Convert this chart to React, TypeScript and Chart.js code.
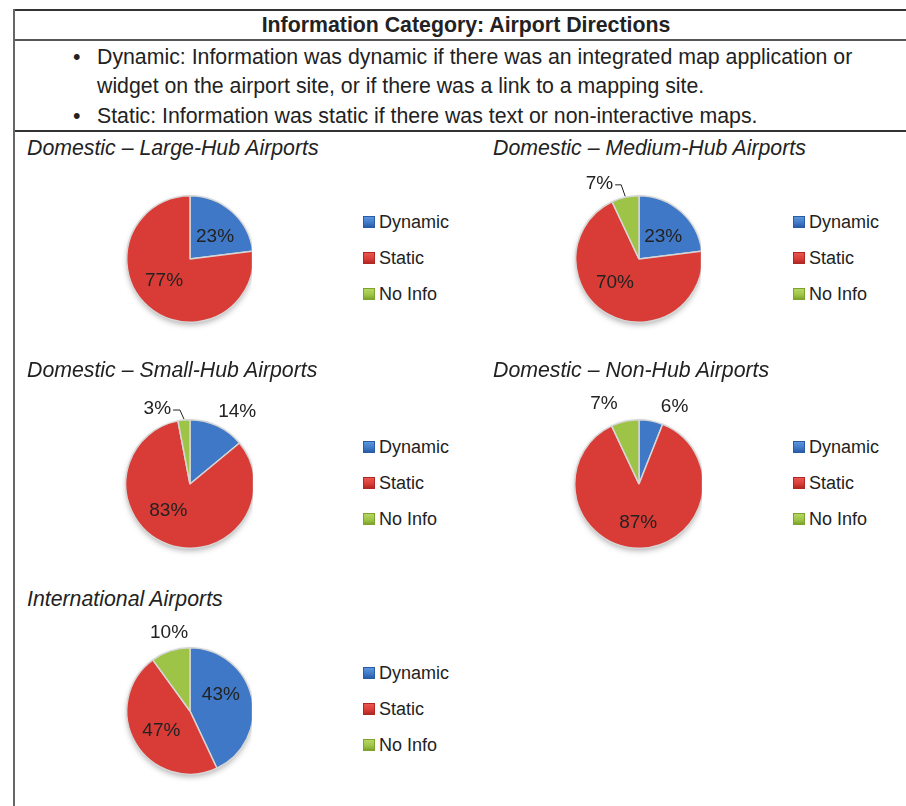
import React, { useEffect, useRef } from "react";
import { Chart, registerables } from "chart.js";

Chart.register(...registerables);

// ---------- data ----------
const categories = ["Dynamic", "Static", "No Info"];
const largeHubValues = [23, 77, 0];
const mediumHubValues = [23, 70, 7];
const smallHubValues = [14, 83, 3];
const nonHubValues = [6, 87, 7];
const internationalValues = [43, 47, 10];

const chartTitles = [
  "Domestic \u2013 Large-Hub Airports",
  "Domestic \u2013 Medium-Hub Airports",
  "Domestic \u2013 Small-Hub Airports",
  "Domestic \u2013 Non-Hub Airports",
  "International Airports",
];

const headerText = "Information Category: Airport Directions";
const bulletLines = [
  "Dynamic: Information was dynamic if there was an integrated map application or",
  "widget on the airport site, or if there was a link to a mapping site.",
  "Static: Information was static if there was text or non-interactive maps.",
];

// ---------- styles ----------
const FONT = "'Liberation Sans', Arial, Helvetica, sans-serif";
const sliceColors = [
  { light: "#5b95dc", base: "#3f78c6", dark: "#2a5ca6" },
  { light: "#ea5650", base: "#d93c36", dark: "#b02824" },
  { light: "#b6d763", base: "#9dc446", dark: "#7ea32c" },
];

type LabelCfg = { f: number; da: number; leader?: boolean } | null;

const pieLayouts = [
  {
    values: largeHubValues, cx: 190, cy: 259, r: 64, titleX: 27, titleY: 148, legendX: 363, legendY: 222,
    labels: [{ f: 0.53, da: 7 }, { f: 0.54, da: 8 }, null] as LabelCfg[],
  },
  {
    values: mediumHubValues, cx: 639, cy: 259, r: 64, titleX: 493, titleY: 148, legendX: 793, legendY: 222,
    labels: [{ f: 0.52, da: 6 }, { f: 0.53, da: 17 }, { f: 1.35, da: -15, leader: true }] as LabelCfg[],
  },
  {
    values: smallHubValues, cx: 190, cy: 484, r: 65, titleX: 27, titleY: 370, legendX: 363, legendY: 447,
    labels: [{ f: 1.34, da: 8 }, { f: 0.54, da: 19 }, { f: 1.28, da: -18, leader: true }] as LabelCfg[],
  },
  {
    values: nonHubValues, cx: 639, cy: 484, r: 65, titleX: 493, titleY: 370, legendX: 793, legendY: 447,
    labels: [{ f: 1.32, da: 14 }, { f: 0.6, da: 3 }, { f: 1.36, da: -11 }] as LabelCfg[],
  },
  {
    values: internationalValues, cx: 190, cy: 711, r: 64, titleX: 27, titleY: 599, legendX: 363, legendY: 673,
    labels: [{ f: 0.55, da: -15 }, { f: 0.55, da: -4 }, { f: 1.28, da: 3 }] as LabelCfg[],
  },
];

const CANVAS_W = 240;
const CANVAS_H = 200;
const BODY_SIZE = 21.3;

function PieChart({ layout }: { layout: (typeof pieLayouts)[number] }) {
  const ref = useRef<HTMLCanvasElement | null>(null);
  useEffect(() => {
    if (!ref.current) return;
    const { values, r, labels } = layout;
    const half = CANVAS_W / 2;
    const vHalf = CANVAS_H / 2;

    const shadowClip = {
      id: "shadowClip",
      beforeDatasetsDraw(chart: any) {
        const meta = chart.getDatasetMeta(0);
        const a = meta.data[0];
        if (!a) return;
        const ctx = chart.ctx;
        ctx.save();
        ctx.beginPath();
        ctx.rect(0, 0, a.x + a.outerRadius - 1.5, chart.height);
        ctx.clip();
        ctx.save();
        ctx.shadowColor = "rgba(0,0,0,0.35)";
        ctx.shadowBlur = 6;
        ctx.shadowOffsetY = 3;
        ctx.beginPath();
        ctx.arc(a.x, a.y, a.outerRadius - 1, 0, Math.PI * 2);
        ctx.fillStyle = "#bbbbbb";
        ctx.fill();
        ctx.restore();
      },
      afterDatasetsDraw(chart: any) {
        const ctx = chart.ctx;
        ctx.restore();
        const meta = chart.getDatasetMeta(0);
        ctx.save();
        ctx.font = `19px ${FONT}`;
        ctx.fillStyle = "#222222";
        ctx.textAlign = "center";
        ctx.textBaseline = "middle";
        meta.data.forEach((arc: any, i: number) => {
          const cfg = labels[i];
          const v = values[i];
          if (!cfg || !v) return;
          const mid = (arc.startAngle + arc.endAngle) / 2;
          const ang = mid + (cfg.da * Math.PI) / 180;
          const R = arc.outerRadius;
          const lx = arc.x + Math.cos(ang) * R * cfg.f;
          const ly = arc.y + Math.sin(ang) * R * cfg.f;
          const txt = `${v}%`;
          ctx.fillText(txt, lx, ly);
          if (cfg.leader) {
            const w = ctx.measureText(txt).width;
            const ex = arc.x + Math.cos(mid) * R;
            const ey = arc.y + Math.sin(mid) * R;
            ctx.beginPath();
            ctx.strokeStyle = "#222222";
            ctx.lineWidth = 1;
            ctx.moveTo(lx + w / 2 + 2, ly + 1.5);
            ctx.lineTo(ex - 4, ly + 1.5);
            ctx.lineTo(ex, ey - 1);
            ctx.stroke();
          }
        });
        ctx.restore();
      },
    };

    const chart = new Chart(ref.current, {
      type: "pie",
      data: {
        labels: categories,
        datasets: [
          {
            data: values,
            backgroundColor: (ctx: any) => {
              const c = sliceColors[ctx.dataIndex % 3];
              const el = ctx.element;
              if (!el || !isFinite(el.x) || !el.outerRadius) return c.base;
              const g = ctx.chart.ctx.createRadialGradient(el.x, el.y, 0, el.x, el.y, el.outerRadius);
              g.addColorStop(0, c.light);
              g.addColorStop(0.75, c.base);
              g.addColorStop(1, c.dark);
              return g;
            },
            borderColor: "#d6d6d6",
            borderWidth: (ctx: any) => (values[ctx.dataIndex] ? 1.5 : 0),
          },
        ],
      },
      options: {
        animation: false,
        responsive: false,
        maintainAspectRatio: false,
        events: [],
        layout: {
          padding: { left: half - r, right: half - r, top: vHalf - r, bottom: vHalf - r },
        },
        plugins: {
          legend: { display: false },
          tooltip: { enabled: false },
        },
      },
      plugins: [shadowClip],
    } as any);
    return () => chart.destroy();
  }, [layout]);

  return (
    <canvas
      ref={ref}
      width={CANVAS_W}
      height={CANVAS_H}
      style={{
        position: "absolute",
        left: layout.cx - CANVAS_W / 2,
        top: layout.cy - CANVAS_H / 2,
        width: CANVAS_W,
        height: CANVAS_H,
      }}
    />
  );
}

function Legend({ x, y }: { x: number; y: number }) {
  return (
    <>
      {categories.map((c, i) => (
        <div
          key={c}
          style={{
            position: "absolute",
            left: x,
            top: y + i * 36 - 11,
            height: 22,
            display: "flex",
            alignItems: "center",
            font: `18px ${FONT}`,
            color: "#222",
            whiteSpace: "nowrap",
          }}
        >
          <span
            style={{
              display: "inline-block",
              width: 10,
              height: 10,
              border: `1px solid ${sliceColors[i].dark}`,
              background: `linear-gradient(${sliceColors[i].light}, ${sliceColors[i].base} 60%, ${sliceColors[i].dark})`,
              marginRight: 4,
            }}
          />
          {c}
        </div>
      ))}
    </>
  );
}

function TextAt({ x, y, children, style }: any) {
  return (
    <div
      style={{
        position: "absolute",
        left: x,
        top: y - 12,
        height: 24,
        lineHeight: "24px",
        font: `${BODY_SIZE}px ${FONT}`,
        color: "#222",
        whiteSpace: "nowrap",
        ...style,
      }}
    >
      {children}
    </div>
  );
}

export default function App() {
  return (
    <div
      style={{
        position: "absolute",
        left: 0,
        top: 0,
        width: 906,
        height: 806,
        background: "#fff",
        overflow: "hidden",
        fontFamily: FONT,
      }}
    >
      {/* table lines */}
      <div style={{ position: "absolute", left: 13, top: 9, width: 900, height: 2, background: "#333" }} />
      <div style={{ position: "absolute", left: 13, top: 39, width: 900, height: 2, background: "#555" }} />
      <div style={{ position: "absolute", left: 13, top: 130, width: 900, height: 2, background: "#333" }} />
      <div style={{ position: "absolute", left: 13, top: 9, width: 2, height: 800, background: "#666" }} />

      {/* header */}
      <div
        style={{
          position: "absolute",
          left: 14,
          width: 904,
          top: 13,
          height: 24,
          lineHeight: "24px",
          textAlign: "center",
          font: `bold ${BODY_SIZE}px ${FONT}`,
          color: "#222",
        }}
      >
        {headerText}
      </div>

      {/* bullets */}
      <TextAt x={73} y={57}>{"\u2022"}</TextAt>
      <TextAt x={97} y={57}>{bulletLines[0]}</TextAt>
      <TextAt x={97} y={86}>{bulletLines[1]}</TextAt>
      <TextAt x={73} y={116}>{"\u2022"}</TextAt>
      <TextAt x={97} y={116}>{bulletLines[2]}</TextAt>

      {pieLayouts.map((l, i) => (
        <React.Fragment key={i}>
          <TextAt x={l.titleX} y={l.titleY} style={{ fontStyle: "italic" }}>
            {chartTitles[i]}
          </TextAt>
          <PieChart layout={l} />
          <Legend x={l.legendX} y={l.legendY} />
        </React.Fragment>
      ))}
    </div>
  );
}
